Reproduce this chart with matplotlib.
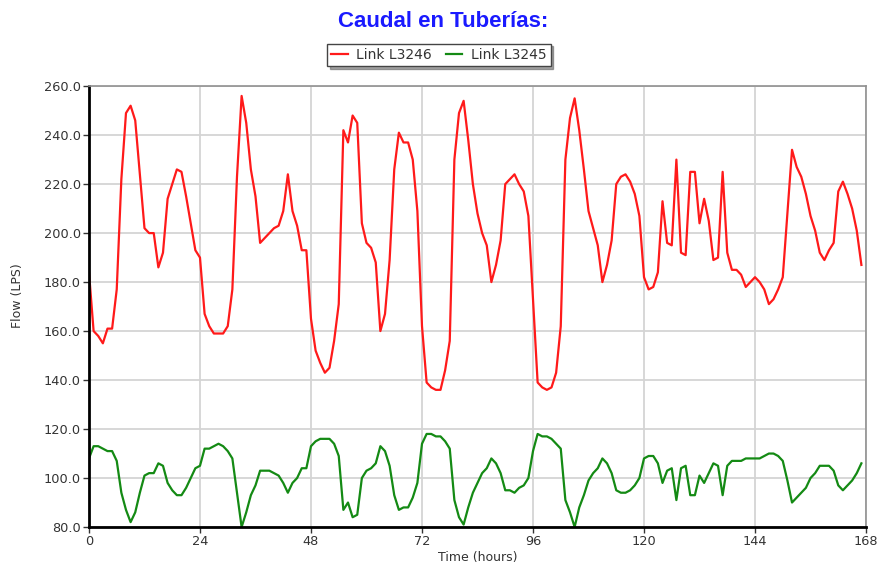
import matplotlib.pyplot as plt
import numpy as np

# hourly flows, hours 0..167
link_l3246 = [
    184, 160, 158, 155, 161, 161, 177, 222, 249, 252,
    246, 224, 202, 200, 200, 186, 192, 214, 220, 226,
    225, 215, 204, 193, 190, 167, 162, 159, 159, 159,
    162, 177, 223, 256, 245, 226, 215, 196, 198, 200,
    202, 203, 209, 224, 209, 203, 193, 193, 165, 152,
    147, 143, 145, 156, 171, 242, 237, 248, 245, 204,
    196, 194, 188, 160, 167, 189, 226, 241, 237, 237,
    230, 209, 162, 139, 137, 136, 136, 144, 156, 230,
    249, 254, 238, 220, 208, 200, 195, 180, 187, 197,
    220, 222, 224, 220, 217, 207, 173, 139, 137, 136,
    137, 143, 162, 230, 247, 255, 242, 226, 209, 202,
    195, 180, 187, 197, 220, 223, 224, 221, 216, 207,
    182, 177, 178, 184, 213, 196, 195, 230, 192, 191,
    225, 225, 204, 214, 205, 189, 190, 225, 192, 185,
    185, 183, 178, 180, 182, 180, 177, 171, 173, 177,
    182, 208, 234, 227, 223, 216, 207, 201, 192, 189,
    193, 196, 217, 221, 216, 210, 201, 187,
]
link_l3245 = [
    108, 113, 113, 112, 111, 111, 107, 94, 87, 82,
    86, 94, 101, 102, 102, 106, 105, 98, 95, 93,
    93, 96, 100, 104, 105, 112, 112, 113, 114, 113,
    111, 108, 94, 80, 86, 93, 97, 103, 103, 103,
    102, 101, 98, 94, 98, 100, 104, 104, 113, 115,
    116, 116, 116, 114, 109, 87, 90, 84, 85, 100,
    103, 104, 106, 113, 111, 105, 93, 87, 88, 88,
    92, 98, 114, 118, 118, 117, 117, 115, 112, 91,
    84, 81, 88, 94, 98, 102, 104, 108, 106, 102,
    95, 95, 94, 96, 97, 100, 111, 118, 117, 117,
    116, 114, 112, 91, 86, 80, 88, 93, 99, 102,
    104, 108, 106, 102, 95, 94, 94, 95, 97, 100,
    108, 109, 109, 106, 98, 103, 104, 91, 104, 105,
    93, 93, 101, 98, 102, 106, 105, 93, 105, 107,
    107, 107, 108, 108, 108, 108, 109, 110, 110, 109,
    107, 99, 90, 92, 94, 96, 100, 102, 105, 105,
    105, 103, 97, 95, 97, 99, 102, 106,
]
hours = np.arange(len(link_l3246))
x_ticks = [0, 24, 48, 72, 96, 120, 144, 168]
y_ticks = [80, 100, 120, 140, 160, 180, 200, 220, 240, 260]

plt.rcParams['font.family'] = ['DejaVu Sans']

fig = plt.figure(figsize=(8.81, 5.70), dpi=100)
ax = fig.add_axes([0.101, 0.0754, 0.882, 0.7735])

ax.plot(hours, link_l3246, color='#ff1a1a', lw=1.6, label='Link L3246')
ax.plot(hours, link_l3245, color='#148a14', lw=1.6, label='Link L3245')

ax.set_xlim(0, 168)
ax.set_ylim(80, 260)
ax.set_xticks(x_ticks)
ax.set_yticks(y_ticks)
ax.set_yticklabels([f"{v:.1f}" for v in y_ticks])
ax.grid(True, color='#d4d4d4', lw=1.3)
ax.set_axisbelow(True)
ax.tick_params(labelsize=9.3, colors='#333333', length=4, width=1, pad=2)

for side in ['left', 'bottom']:
    ax.spines[side].set_color('black')
    ax.spines[side].set_linewidth(2)
for side in ['top', 'right']:
    ax.spines[side].set_color('#909090')
    ax.spines[side].set_linewidth(1.2)

ax.set_xlabel("Time (hours)", fontsize=9, color='#333333', labelpad=2)
ax.set_ylabel("Flow (LPS)", fontsize=9, color='#333333')
# label sits a bit left of the tick labels and slightly above the middle
ax.yaxis.set_label_coords(-0.083, 0.525)

fig.text(0.503, 0.963, "Caudal en Tuberías:", ha='center', va='center',
         fontsize=16, fontweight='bold', color='#1a1aff',
         family='Liberation Sans')

leg = fig.legend(loc='center', bbox_to_anchor=(0.498, 0.904), ncol=2,
                 fontsize=10, frameon=True, fancybox=False, shadow=True,
                 handlelength=1.2, columnspacing=1.0, handletextpad=0.6,
                 borderpad=0.3)
leg.get_frame().set_edgecolor('#444444')
leg.get_frame().set_linewidth(1.0)
for t in leg.get_texts():
    t.set_color('#333333')

fig.savefig("out.png", dpi=100)
